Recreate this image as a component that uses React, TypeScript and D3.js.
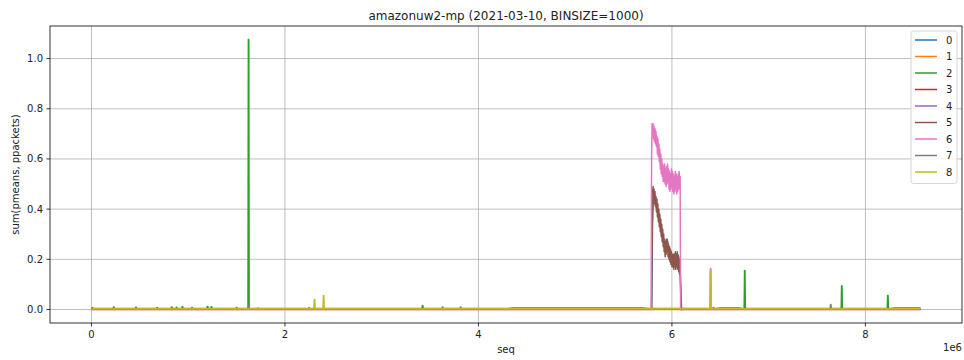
import React from 'react';
import * as d3 from 'd3';

// seq values are in units of 1e6 (the axis carries the "1e6" offset)
const seriesNames = ['0', '1', '2', '3', '4', '5', '6', '7', '8'];
const colors = ['#1f77b4', '#ff7f0e', '#2ca02c', '#d62728', '#9467bd', '#8c564b', '#e377c2', '#7f7f7f', '#bcbd22'];
const xTicks = [0, 2, 4, 6, 8];
const yTicks = [0, 0.2, 0.4, 0.6, 0.8, 1.0];

// near-zero floor of each series, [seq, value]
const floor0 = [[0, 0.001], [8.57, 0.001]];
const floor1 = [[0, 0.0005], [8.57, 0.0005]];
const floor2 = [[0, 0.004], [4.3, 0.004], [4.35, 0.006], [5.7, 0.006], [5.75, 0.004], [6.45, 0.004],
  [6.5, 0.006], [6.7, 0.006], [6.72, 0.004], [8.26, 0.004], [8.3, 0.006], [8.57, 0.006]];
const floor3 = [[0, 0.0008], [8.57, 0.0008]];
const floor4 = [[0, 0.001], [8.57, 0.001]];
const floor5 = [[0, 0.001], [8.57, 0.001]];
const floor6 = [[0, 0.0], [8.57, 0.0]];
const floor7 = [[0, 0.0015], [8.57, 0.0015]];
const floor8 = [[0, 0.0025], [8.57, 0.0025]];

// single-bin spikes, [seq, value]
const spikes2 = [[0.01, 0.008], [0.23, 0.01], [0.46, 0.009], [0.68, 0.008], [0.83, 0.01], [0.88, 0.009],
  [0.94, 0.011], [1.04, 0.008], [1.2, 0.012], [1.24, 0.011], [1.5, 0.008], [1.624, 1.076], [1.72, 0.006],
  [2.25, 0.007], [3.423, 0.016], [6.753, 0.155], [7.756, 0.095], [8.232, 0.056]];
const spikes4 = [[1.624, 0.012]];
const spikes6 = [[6.4, 0.163]];
const spikes7 = [[3.63, 0.01], [3.816, 0.01], [6.43, 0.008], [7.642, 0.02]];
const spikes8 = [[2.306, 0.04], [2.4, 0.056], [6.4, 0.155]];

// the burst around 5.8e6 .. 6.1e6 (bins listed one after another)
const burst0Start = 5.8, burst0Step = 0.01;
const burst0 = [0.35, 0.47, 0.45, 0.43, 0.41, 0.39, 0.37, 0.35, 0.33, 0.31, 0.29, 0.27, 0.26, 0.25, 0.27,
  0.28, 0.26, 0.24, 0.23, 0.22, 0.21, 0.21, 0.2, 0.2, 0.21, 0.22, 0.22, 0.21, 0.19, 0.1, 0.0];
const burst5Start = 5.795, burst5Step = 0.005;
const burst5 = [0.25, 0.47, 0.49, 0.44, 0.48, 0.42, 0.47, 0.41, 0.45, 0.39, 0.44, 0.37, 0.42, 0.35, 0.4,
  0.33, 0.38, 0.31, 0.36, 0.29, 0.34, 0.27, 0.32, 0.25, 0.3, 0.23, 0.28, 0.21, 0.27, 0.22, 0.28, 0.23, 0.27,
  0.21, 0.26, 0.2, 0.25, 0.19, 0.24, 0.18, 0.23, 0.17, 0.22, 0.17, 0.22, 0.16, 0.22, 0.17, 0.23, 0.16, 0.22,
  0.17, 0.23, 0.16, 0.21, 0.15, 0.2, 0.14, 0.18, 0.08, 0.0];
const burst6Start = 5.79, burst6Step = 0.005;
const burst6 = [0.6, 0.74, 0.69, 0.74, 0.68, 0.73, 0.67, 0.72, 0.66, 0.71, 0.65, 0.69, 0.62, 0.68, 0.61,
  0.66, 0.59, 0.64, 0.56, 0.62, 0.54, 0.6, 0.53, 0.58, 0.51, 0.57, 0.51, 0.58, 0.5, 0.56, 0.49, 0.57, 0.5,
  0.58, 0.51, 0.56, 0.48, 0.55, 0.47, 0.54, 0.48, 0.56, 0.49, 0.55, 0.47, 0.54, 0.46, 0.53, 0.47, 0.55, 0.48,
  0.54, 0.46, 0.53, 0.47, 0.54, 0.48, 0.55, 0.49, 0.53];

type Pt = [number, number];

function floorAt(floor: number[][], s: number) {
  let v = floor[0][1];
  floor.forEach(p => { if (p[0] <= s) v = p[1]; });
  return v;
}

function buildSeries(floor: number[][], spikes: number[][], burst?: number[], start?: number, step?: number): Pt[] {
  const pts: Pt[] = floor.map(p => [p[0], p[1]] as Pt);
  spikes.forEach(([s, v]) => {
    const f = floorAt(floor, s);
    pts.push([s - 0.006, f], [s - 0.002, v], [s + 0.002, v], [s + 0.006, f]);
  });
  if (burst && start !== undefined && step !== undefined) {
    const f = floorAt(floor, start);
    pts.push([start - step, f]);
    burst.forEach((v, i) => pts.push([start + i * step, v]));
    pts.push([start + burst.length * step, f]);
  }
  return pts.sort((a, b) => a[0] - b[0]);
}

const series: Pt[][] = [
  buildSeries(floor0, [], burst0, burst0Start, burst0Step),
  buildSeries(floor1, []),
  buildSeries(floor2, spikes2),
  buildSeries(floor3, []),
  buildSeries(floor4, spikes4),
  buildSeries(floor5, [], burst5, burst5Start, burst5Step),
  buildSeries(floor6, spikes6, burst6, burst6Start, burst6Step),
  buildSeries(floor7, spikes7),
  buildSeries(floor8, spikes8),
];

const W = 964, H = 360;
const left = 50, right = 962, top = 26, bottom = 323;
const font = '"DejaVu Sans", sans-serif';

export default function App() {
  const all = series.flat();
  const [x0, x1] = d3.extent(all, d => d[0]) as [number, number];
  const [y0, y1] = d3.extent(all, d => d[1]) as [number, number];
  const xPad = (x1 - x0) * 0.05, yPad = (y1 - y0) * 0.05;
  const x = d3.scaleLinear().domain([x0 - xPad, x1 + xPad]).range([left, right]);
  const y = d3.scaleLinear().domain([y0 - yPad, y1 + yPad]).range([bottom, top]);
  const line = d3.line<Pt>().x(d => x(d[0])).y(d => y(d[1]));

  const legX = 911, legY = 31, legW = 46, rowH = 16.5;

  return (
    <svg width={W} height={H} style={{ position: 'absolute', left: 0, top: 0, background: '#fff' }}>
      <defs>
        <clipPath id="plot">
          <rect x={left} y={top} width={right - left} height={bottom - top} />
        </clipPath>
      </defs>
      <rect x={0} y={0} width={W} height={H} fill="#fff" />
      {/* grid */}
      <g stroke="#b0b0b0" strokeWidth={0.8}>
        {xTicks.map(t => <line key={'gx' + t} x1={x(t)} x2={x(t)} y1={top} y2={bottom} />)}
        {yTicks.map(t => <line key={'gy' + t} x1={left} x2={right} y1={y(t)} y2={y(t)} />)}
      </g>
      {/* lines */}
      <g clipPath="url(#plot)" fill="none" strokeWidth={1.5} strokeLinejoin="round">
        {series.map((s, i) => <path key={i} d={line(s) || ''} stroke={colors[i]} />)}
      </g>
      {/* frame */}
      <rect x={left} y={top} width={right - left} height={bottom - top} fill="none" stroke="#000" strokeWidth={0.8} />
      {/* ticks */}
      <g stroke="#000" strokeWidth={0.8}>
        {xTicks.map(t => <line key={'tx' + t} x1={x(t)} x2={x(t)} y1={bottom} y2={bottom + 3.5} />)}
        {yTicks.map(t => <line key={'ty' + t} x1={left - 3.5} x2={left} y1={y(t)} y2={y(t)} />)}
      </g>
      <g fontFamily={font} fontSize={10} fill="#222">
        {xTicks.map(t => <text key={'lx' + t} x={x(t)} y={bottom + 15} textAnchor="middle">{t}</text>)}
        {yTicks.map(t => <text key={'ly' + t} x={left - 7} y={y(t)} dy="0.35em" textAnchor="end">{t.toFixed(1)}</text>)}
        <text x={right} y={351} textAnchor="end">1e6</text>
        <text x={(left + right) / 2} y={353} textAnchor="middle">seq</text>
        <text transform={`translate(15,${(top + bottom) / 2}) rotate(-90)`} dy="0.35em" textAnchor="middle">sum(pmeans, ppackets)</text>
      </g>
      <text x={(left + right) / 2} y={20} textAnchor="middle" fontFamily={font} fontSize={12} fill="#222">
        amazonuw2-mp (2021-03-10, BINSIZE=1000)
      </text>
      {/* legend */}
      <g>
        <rect x={legX} y={legY} width={legW} height={rowH * 9 + 4} rx={2.5} fill="#fff" fillOpacity={0.8} stroke="#cccccc" strokeWidth={0.8} />
        {seriesNames.map((n, i) => (
          <g key={n} transform={`translate(${legX + 4},${legY + 9 + i * rowH})`}>
            <line x1={0} x2={22} y1={0} y2={0} stroke={colors[i]} strokeWidth={1.5} />
            <text x={31} y={0} dy="0.35em" fontFamily={font} fontSize={10} fill="#222">{n}</text>
          </g>
        ))}
      </g>
    </svg>
  );
}
